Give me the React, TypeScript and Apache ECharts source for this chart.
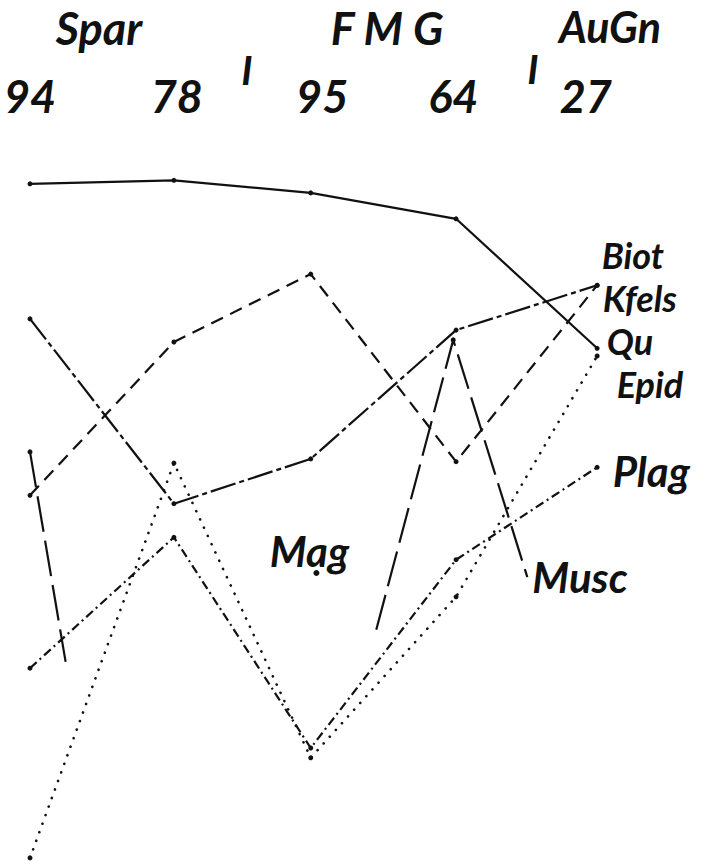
import React, { useEffect, useRef } from 'react';
import * as echarts from 'echarts';

// Column tick labels (sample numbers) and their header positions
const headerLabels = ['94', '78', '95', '64', '27'];
const headerPos = [0, 1.03, 2.05, 2.97, 3.9];
// Positions of the five sample columns on the x scale
const columnX = [0, 1.01, 1.97, 2.99, 3.98];
// Group names above the samples
const groupLabels = ['Spar', 'F M G', 'AuGn'];

// Mineral values per column (relative scale 0–100)
const quY = [96.6, 97.1, 95.3, 91.6, 73.1];
const biotY = [77.3, 50.9, 57.3, 75.7, 82.1];
const kfelsY = [52.1, 74.0, 83.7, 56.9, 82.1];
const epidY = [0.3, 56.7, 14.6, 37.6, 72.0];
const plagY = [27.4, 46.1, 16.0, 42.9, 56.1];
// Muscovite: broken line (two pieces)
const muscA = [[0, 58.3], [0.25, 28.3]];
const muscB = [[2.43, 32.9], [2.97, 74.3], [3.49, 40.4]];
// Magnetite: single point
const magPoint = [2.01, 41.0];

const INK = '#111';
const FONT = 'Lato, "Liberation Sans", "DejaVu Sans", sans-serif';

function pairs(ys: number[]) {
  return ys.map((y, i) => [columnX[i], y]);
}

function withEndLabel(data: number[][], name: string, offset: number[], size = 42) {
  return data.map((p, i) =>
    i === data.length - 1
      ? {
          value: p,
          label: {
            show: true,
            formatter: name,
            position: 'right',
            distance: 0,
            offset,
            fontFamily: FONT,
            fontStyle: 'italic',
            fontWeight: 'bold',
            fontSize: size,
            lineHeight: size - 4,
            color: INK,
          },
        }
      : { value: p }
  );
}

function lineSeries(name: string, data: any[], dash: any, width = 2.2, cap: any = 'butt') {
  return {
    type: 'line',
    name,
    data,
    clip: false,
    symbol: 'circle',
    symbolSize: 5,
    itemStyle: { color: INK },
    lineStyle: { color: INK, width, type: dash, cap },
    label: { show: false },
    z: 2,
  };
}

export default function App() {
  const ref = useRef<HTMLDivElement>(null);
  useEffect(() => {
    if (!ref.current) return;
    const chart = echarts.init(ref.current, undefined, { renderer: 'svg' });
    const textStyle = (size: number) => ({
      font: `italic bold ${size}px ${FONT}`,
      fill: INK,
      align: 'center',
      verticalAlign: 'middle',
    });
    const option: any = {
      animation: false,
      backgroundColor: '#ffffff',
      grid: { left: 30, right: 107, top: 160, bottom: 5, outerBoundsMode: 'none' },
      xAxis: {
        type: 'value',
        position: 'top',
        min: 0,
        max: 4,
        interval: 1,
        axisLine: { show: false },
        axisTick: { show: false },
        splitLine: { show: false },
        axisLabel: {
          show: true,
          customValues: headerPos,
          margin: 42,
          fontFamily: FONT,
          fontStyle: 'italic',
          fontWeight: 'bold',
          fontSize: 45,
          color: INK,
          formatter: (v: number) => {
            let best = 0;
            headerPos.forEach((p, i) => {
              if (Math.abs(p - v) < Math.abs(headerPos[best] - v)) best = i;
            });
            return headerLabels[best];
          },
        },
      },
      yAxis: { type: 'value', min: 0, max: 100, show: false },
      graphic: [
        { type: 'text', x: 99, y: 28, style: { text: groupLabels[0], ...textStyle(45) } },
        { type: 'text', x: 387, y: 28, style: { text: groupLabels[1], ...textStyle(45) } },
        { type: 'text', x: 610, y: 26, style: { text: groupLabels[2], ...textStyle(43) } },
        { type: 'text', x: 247, y: 70, style: { text: 'I', ...textStyle(40) } },
        { type: 'text', x: 533, y: 69, style: { text: 'I', ...textStyle(40) } },
      ],
      series: [
        lineSeries('Qu', withEndLabel(pairs(quY), 'Qu', [7, -7], 36), 'solid', 2.2),
        lineSeries('Biot', withEndLabel(pairs(biotY), 'Biot', [2, -30], 36), [26, 4, 5, 4], 2.2),
        lineSeries('Kfels', withEndLabel(pairs(kfelsY), 'Kfels', [3, 13], 36), [13, 8], 2.2),
        lineSeries('Epid', withEndLabel(pairs(epidY), 'Epid', [17, 28], 36), [0.1, 9], 2.6, 'round'),
        lineSeries('Plag', withEndLabel(pairs(plagY), 'Plag', [13, 4]), [9, 4, 2, 4], 2.2),
        lineSeries(
          'Musc',
          muscA.map((p, i) => (i === 0 ? { value: p } : { value: p, symbolSize: 0 })),
          [36, 9],
          2.2
        ),
        lineSeries(
          'Musc',
          withEndLabel(muscB, 'Musc', [5, 0]).map((d: any, i: number) =>
            i === 1 ? d : { ...d, symbolSize: 0 }
          ),
          [36, 9],
          2.2
        ),
        {
          type: 'scatter',
          name: 'Mag',
          data: [
            {
              value: magPoint,
              label: {
                show: true,
                formatter: 'Mag',
                position: 'top',
                distance: 5,
                offset: [-7, 2],
                fontFamily: FONT,
                fontStyle: 'italic',
                fontWeight: 'bold',
                fontSize: 42,
                lineHeight: 32,
                color: INK,
                opacity: 1,
              },
            },
          ],
          symbol: 'circle',
          symbolSize: 6,
          itemStyle: { color: INK, opacity: 1 },
          clip: false,
        },
      ],
    };
    chart.setOption(option);
    return () => chart.dispose();
  }, []);
  return (
    <div
      ref={ref}
      style={{ position: 'fixed', left: 0, top: 0, width: 707, height: 865, background: '#fff' }}
    />
  );
}
